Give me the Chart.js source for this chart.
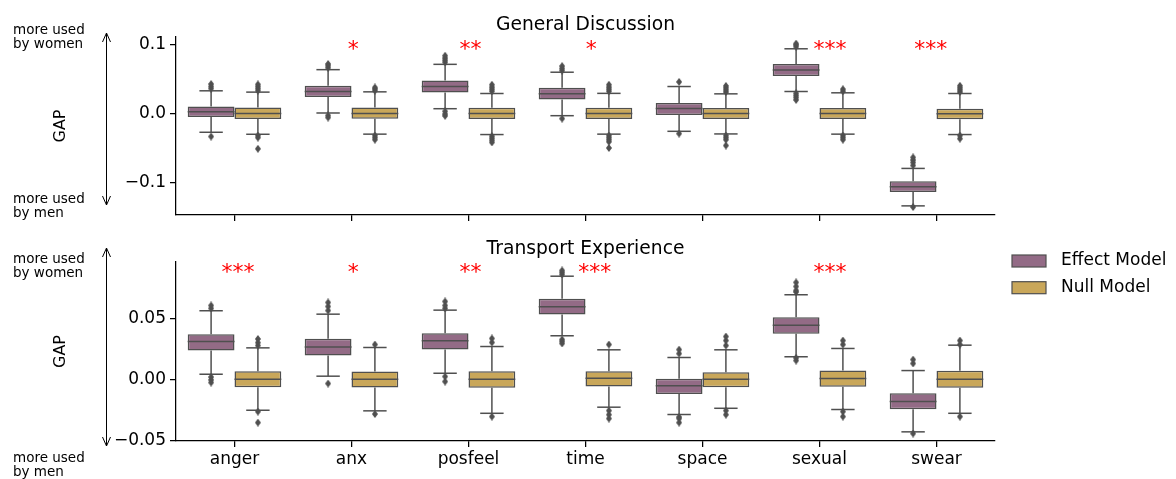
<!DOCTYPE html>
<html lang="en">
<head>
<meta charset="UTF-8" />
<title>GAP: Effect Model vs Null Model</title>
<script src="https://cdn.jsdelivr.net/npm/chart.js"></script>
<style>
  html, body { margin: 0; padding: 0; background: #fff; }
  body { width: 1176px; height: 479px; position: relative; overflow: hidden; }
  canvas { position: absolute; left: 0; }
  #topChart { top: 0; }
  #bottomChart { top: 230px; }
</style>
</head>
<body>
<canvas id="topChart" width="1176" height="230"></canvas>
<canvas id="bottomChart" width="1176" height="249"></canvas>

<script>
// ---- data ----
const categories = ['anger', 'anx', 'posfeel', 'time', 'space', 'sexual', 'swear'];
const seriesNames = ['Effect Model', 'Null Model'];

// General Discussion - Effect Model
const gdEffectQ1  = [-0.0052, 0.0236, 0.0302, 0.0201, -0.0023, 0.0542, -0.1137];
const gdEffectQ3  = [0.0101, 0.0399, 0.0475, 0.0370, 0.0150, 0.0715, -0.0983];
const gdEffectMed = [0.0024, 0.0317, 0.0389, 0.0283, 0.0072, 0.0629, -0.1060];
const gdEffectLo  = [-0.0273, 0.0006, 0.0068, -0.0033, -0.0259, 0.0317, -0.1338];
const gdEffectHi  = [0.0327, 0.0633, 0.0710, 0.0596, 0.0389, 0.0935, -0.0796];
const gdEffectOut = [
  [0.036, 0.039, 0.0425, -0.0335],
  [0.066, 0.069, 0.0715, -0.003, -0.006],
  [0.074, 0.077, 0.080, 0.0835, 0.003, -0.001, -0.0035],
  [0.062, 0.065, 0.0685, -0.0075],
  [0.0456, -0.0292],
  [0.0965, 0.099, 0.101, 0.029, 0.026, 0.023, 0.0195],
  [-0.0753, -0.071, -0.0675, -0.0637, -0.1355]
];

// General Discussion - Null Model
const gdNullQ1  = [-0.0081, -0.0076, -0.0081, -0.0081, -0.0081, -0.0081, -0.0086];
const gdNullQ3  = [0.0086, 0.0086, 0.0082, 0.0082, 0.0077, 0.0077, 0.0068];
const gdNullMed = [0, 0, 0, 0, 0, 0, -0.0004];
const gdNullLo  = [-0.0302, -0.0300, -0.0306, -0.0300, -0.0297, -0.0300, -0.0306];
const gdNullHi  = [0.0308, 0.0312, 0.0288, 0.0290, 0.0283, 0.0298, 0.0288];
const gdNullOut = [
  [0.033, 0.036, 0.039, 0.042, -0.032, -0.035, -0.0512],
  [0.033, 0.0355, 0.0375, -0.032, -0.035, -0.038],
  [0.032, 0.035, 0.038, 0.0415, -0.033, -0.036, -0.039, -0.042],
  [0.032, 0.035, 0.038, 0.0415, -0.032, -0.035, -0.038, -0.041, -0.050],
  [0.031, 0.034, 0.037, 0.0398, -0.032, -0.035, -0.038, -0.0465],
  [0.032, 0.035, -0.032, -0.035, -0.038],
  [0.031, 0.034, 0.037, 0.040, -0.032, -0.0365]
];

// Transport Experience - Effect Model
const teEffectQ1  = [0.0235, 0.0194, 0.0243, 0.0530, -0.0120, 0.0372, -0.0246];
const teEffectQ3  = [0.0369, 0.0331, 0.0377, 0.0659, 0.0003, 0.0508, -0.0115];
const teEffectMed = [0.0309, 0.0265, 0.0315, 0.0593, -0.0054, 0.0443, -0.0183];
const teEffectLo  = [0.0041, 0.0025, 0.0049, 0.0356, -0.0289, 0.0184, -0.0431];
const teEffectHi  = [0.0561, 0.0533, 0.0566, 0.0844, 0.0178, 0.0692, 0.0071];
const teEffectOut = [
  [0.058, 0.0604, 0.0018, -0.0005, -0.0027],
  [0.0563, 0.0596, 0.0629, -0.0035],
  [0.058, 0.0604, 0.0637, 0.0022, -0.0019],
  [0.0858, 0.0875, 0.0891, 0.0325, 0.031, 0.0293],
  [0.021, 0.0243, -0.031, -0.0322, -0.0355],
  [0.0715, 0.0727, 0.076, 0.0793, 0.0153, 0.0175],
  [0.0129, 0.0161, -0.0445]
];

// Transport Experience - Null Model
const teNullQ1  = [-0.0066, -0.0068, -0.0070, -0.0060, -0.0066, -0.0062, -0.0070];
const teNullQ3  = [0.0066, 0.0063, 0.0066, 0.0066, 0.0057, 0.0071, 0.0069];
const teNullMed = [0, 0, 0, 0.0008, 0, 0.0006, 0];
const teNullLo  = [-0.0254, -0.0259, -0.0279, -0.0229, -0.0238, -0.0248, -0.0279];
const teNullHi  = [0.0257, 0.0260, 0.0268, 0.0241, 0.0241, 0.0252, 0.0279];
const teNullOut = [
  [0.0276, 0.030, 0.033, -0.0265, -0.0355],
  [0.0284, -0.0285],
  [0.0301, 0.0334, -0.0306],
  [0.0284, -0.0257, -0.029, -0.0322],
  [0.0276, 0.0317, 0.035, -0.0257, -0.029],
  [0.0284, 0.0317, -0.0265, -0.0306],
  [0.0284, 0.0317, -0.0306]
];

// significance marks
const gdStars = ['', '*', '**', '*', '', '***', '***'];
const teStars = ['***', '*', '**', '***', '', '***', ''];

// y ticks
const gdTicks = [-0.1, 0, 0.1];
const gdTickLabels = ['\u22120.1', '0.0', '0.1'];
const teTicks = [-0.05, 0, 0.05];
const teTickLabels = ['\u22120.05', '0.00', '0.05'];

// ---- style ----
const FONT = 'DejaVu Sans';
const effectColor = '#936b86';
const nullColor = '#c9a75a';
const edgeColor = '#4f4f4f';
Chart.defaults.font.family = FONT;
Chart.defaults.color = '#000';

function thinDiamond(w, h, color) {
  const c = document.createElement('canvas');
  c.width = w; c.height = h;
  const g = c.getContext('2d');
  g.fillStyle = color;
  g.beginPath();
  g.moveTo(w / 2, 0); g.lineTo(w, h / 2); g.lineTo(w / 2, h); g.lineTo(0, h / 2);
  g.closePath();
  g.fill();
  return c;
}
const diamond = thinDiamond(6, 8, edgeColor);

// whiskers, caps, medians and fliers, placed from the bar elements + y scale
const boxExtras = {
  id: 'boxExtras',
  afterDatasetsDraw(chart, args, opts) {
    const {ctx} = chart;
    const y = chart.scales.y;
    ctx.save();
    ctx.strokeStyle = edgeColor;
    ctx.lineWidth = 1.5;
    const seg = (x1, y1, x2, y2) => { ctx.beginPath(); ctx.moveTo(x1, y1); ctx.lineTo(x2, y2); ctx.stroke(); };
    opts.stats.forEach((s, di) => {
      chart.getDatasetMeta(di).data.forEach((bar, i) => {
        const {x, width} = bar.getProps(['x', 'width'], true);
        const h = width / 2, c = width / 4;
        const pMed = y.getPixelForValue(s.med[i]);
        const pQ1 = y.getPixelForValue(s.q1[i]), pQ3 = y.getPixelForValue(s.q3[i]);
        const pLo = y.getPixelForValue(s.lo[i]), pHi = y.getPixelForValue(s.hi[i]);
        seg(x - h, pMed, x + h, pMed);
        seg(x, pQ3, x, pHi);
        seg(x - c, pHi, x + c, pHi);
        seg(x, pQ1, x, pLo);
        seg(x - c, pLo, x + c, pLo);
        s.out[i].forEach(v => {
          ctx.drawImage(diamond, x - diamond.width / 2, y.getPixelForValue(v) - diamond.height / 2);
        });
      });
    });
    ctx.restore();
  }
};

// red significance asterisks
const starMarks = {
  id: 'starMarks',
  afterDatasetsDraw(chart, args, opts) {
    const {ctx} = chart;
    const x = chart.scales.x, y = chart.scales.y;
    const step = x.getPixelForValue(1) - x.getPixelForValue(0);
    ctx.save();
    ctx.fillStyle = '#ff0000';
    ctx.font = '22px "' + FONT + '"';
    ctx.textAlign = 'center';
    ctx.textBaseline = 'alphabetic';
    opts.marks.forEach((m, i) => {
      if (!m) return;
      ctx.fillText(m, x.getPixelForValue(i) + opts.shift[i] * step, y.getPixelForValue(opts.level) + 10);
    });
    ctx.restore();
  }
};

// "more used by ..." notes with the double arrow
const sideNotes = {
  id: 'sideNotes',
  afterDraw(chart, args, opts) {
    const {ctx} = chart;
    ctx.save();
    ctx.fillStyle = '#000';
    ctx.font = '13.5px "' + FONT + '"';
    ctx.textAlign = 'left';
    ctx.textBaseline = 'alphabetic';
    opts.lines.forEach(l => ctx.fillText(l[0], 13, l[1]));
    const {x, y1, y2} = opts.arrow;
    ctx.strokeStyle = '#000';
    ctx.lineWidth = 1;
    ctx.beginPath();
    ctx.moveTo(x, y1); ctx.lineTo(x, y2);
    ctx.moveTo(x - 4, y1 + 9); ctx.lineTo(x, y1); ctx.lineTo(x + 4, y1 + 9);
    ctx.moveTo(x - 4, y2 - 9); ctx.lineTo(x, y2); ctx.lineTo(x + 4, y2 - 9);
    ctx.stroke();
    ctx.restore();
  }
};

// legend box at the right of the lower panel
const sideLegend = {
  id: 'sideLegend',
  afterDraw(chart, args, opts) {
    if (!opts.show) return;
    const {ctx} = chart;
    ctx.save();
    ctx.font = '17px "' + FONT + '"';
    ctx.textBaseline = 'middle';
    ctx.textAlign = 'left';
    [0, 1].forEach(i => {
      const ds = chart.data.datasets[i];
      const top = 25 + i * 26.7;
      ctx.fillStyle = ds.backgroundColor;
      ctx.fillRect(1012, top, 34, 12);
      ctx.strokeStyle = edgeColor;
      ctx.lineWidth = 1.2;
      ctx.strokeRect(1012, top, 34, 12);
      ctx.fillStyle = '#000';
      ctx.fillText(ds.label, 1061, top + 6);
    });
    ctx.restore();
  }
};

function makePanel(id, p) {
  const axisLine = {display: true, color: '#000', width: 1.25};
  const tickGrid = {display: true, drawOnChartArea: false, drawTicks: true, tickLength: 6, color: '#000', lineWidth: 1.25, offset: false};
  const boxStyle = {type: 'bar', borderColor: edgeColor, borderWidth: 1.5, borderSkipped: false,
    categoryPercentage: 0.8, barPercentage: 1.0};

  return new Chart(document.getElementById(id), {
    data: {
      labels: categories,
      datasets: [
        Object.assign({label: seriesNames[0], backgroundColor: effectColor,
          data: categories.map((c, i) => [p.effect.q1[i], p.effect.q3[i]])}, boxStyle),
        Object.assign({label: seriesNames[1], backgroundColor: nullColor,
          data: categories.map((c, i) => [p.nul.q1[i], p.nul.q3[i]])}, boxStyle)
      ]
    },
    options: {
      responsive: false,
      animation: false,
      layout: {padding: {left: 47, right: 181, top: 0, bottom: 0}},
      scales: {
        x: {
          type: 'category', offset: true,
          grid: tickGrid, border: axisLine,
          ticks: {display: p.showLabels, font: {size: 17}, color: '#000', padding: 2},
          afterFit: s => { s.height = p.xHeight; }
        },
        y: {
          type: 'linear', min: p.yMin, max: p.yMax,
          grid: tickGrid, border: axisLine,
          afterBuildTicks: s => { s.ticks = p.ticks.map(v => ({value: v})); },
          ticks: {font: {size: 17}, color: '#000', padding: 4, callback: (v, i) => p.tickLabels[i]},
          title: {display: true, text: 'GAP', font: {size: 16}, color: '#000'},
          afterFit: s => { s.width = 129; }
        }
      },
      plugins: {
        legend: {display: false},
        tooltip: {enabled: false},
        title: {display: true, text: p.title, fullSize: false, color: '#000',
          font: {size: 18.7, weight: 'normal'}, padding: p.titlePad},
        boxExtras: {stats: [p.effect, p.nul]},
        starMarks: {marks: p.stars, shift: p.starShift, level: p.starLevel},
        sideNotes: p.notes,
        sideLegend: {show: p.legend}
      }
    },
    plugins: [boxExtras, starMarks, sideNotes, sideLegend]
  });
}

makePanel('topChart', {
  title: 'General Discussion',
  titlePad: {top: 14.3, bottom: 0.3},
  effect: {q1: gdEffectQ1, q3: gdEffectQ3, med: gdEffectMed, lo: gdEffectLo, hi: gdEffectHi, out: gdEffectOut},
  nul: {q1: gdNullQ1, q3: gdNullQ3, med: gdNullMed, lo: gdNullLo, hi: gdNullHi, out: gdNullOut},
  yMin: -0.147, yMax: 0.1105,
  ticks: gdTicks, tickLabels: gdTickLabels,
  showLabels: false, xHeight: 15,
  stars: gdStars, starShift: [0, 0.015, 0.017, 0.05, 0, 0.09, -0.05], starLevel: 0.0978,
  notes: {lines: [['more used', 34], ['by women', 48], ['more used', 203], ['by men', 217]],
          arrow: {x: 106.5, y1: 33, y2: 205}},
  legend: false
});

makePanel('bottomChart', {
  title: 'Transport Experience',
  titlePad: {top: 8.3, bottom: 1.3},
  effect: {q1: teEffectQ1, q3: teEffectQ3, med: teEffectMed, lo: teEffectLo, hi: teEffectHi, out: teEffectOut},
  nul: {q1: teNullQ1, q3: teNullQ3, med: teNullMed, lo: teNullLo, hi: teNullHi, out: teNullOut},
  yMin: -0.0506, yMax: 0.096,
  ticks: teTicks, tickLabels: teTickLabels,
  showLabels: true, xHeight: 38,
  stars: teStars, starShift: [0.03, 0.015, 0.017, 0.08, 0, 0.09, 0], starLevel: 0.0904,
  notes: {lines: [['more used', 32.5], ['by women', 46.5], ['more used', 232], ['by men', 246]],
          arrow: {x: 106.5, y1: 18, y2: 216}},
  legend: true
});
</script>
</body>
</html>
